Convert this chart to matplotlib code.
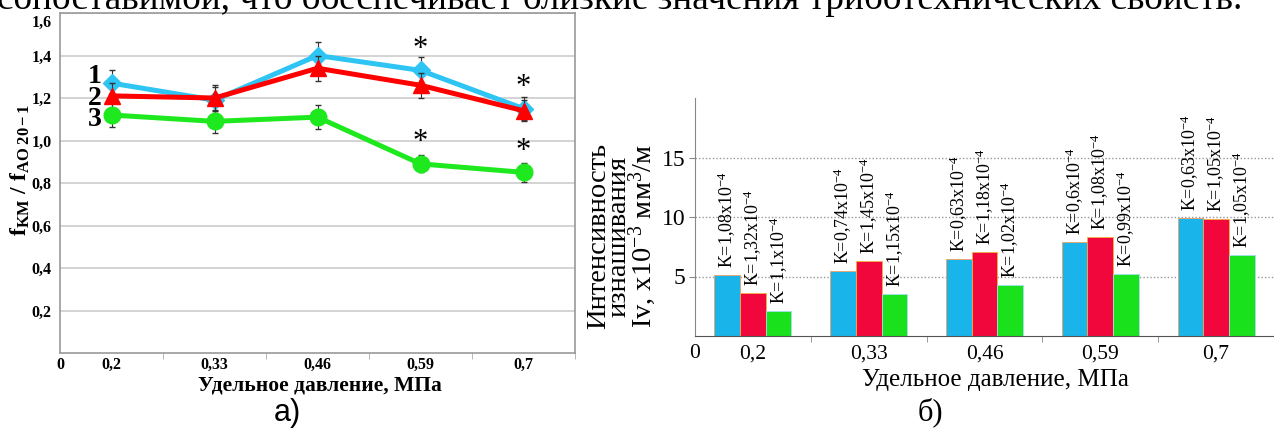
import matplotlib
matplotlib.use('Agg')
import matplotlib.pyplot as plt
import matplotlib.transforms as mtransforms
import numpy as np

plt.rcParams['font.family'] = ['Liberation Serif', 'DejaVu Serif']
plt.rcParams['mathtext.fontset'] = 'custom'
plt.rcParams['mathtext.rm'] = 'Liberation Serif'
plt.rcParams['mathtext.it'] = 'Liberation Serif:italic'
plt.rcParams['mathtext.bf'] = 'Liberation Serif:bold'

# ---- data ----
pressure = ['0,2', '0,33', '0,46', '0,59', '0,7']

# (а) friction coefficient ratio
ratio_1 = [1.27, 1.19, 1.40, 1.33, 1.15]
ratio_2 = [1.21, 1.20, 1.34, 1.26, 1.14]
ratio_3 = [1.12, 1.09, 1.11, 0.89, 0.85]
err_1 = [0.06, 0.06, 0.065, 0.065, 0.055]
err_2 = [0.06, 0.06, 0.06, 0.06, 0.05]
err_3 = [0.055, 0.055, 0.055, 0.04, 0.045]
star_1 = [False, False, False, True, True]
star_3 = [False, False, False, True, True]

# (б) wear intensity
wear_blue = [5.1, 5.5, 6.5, 7.9, 9.9]
wear_red = [3.6, 6.3, 7.1, 8.3, 9.8]
wear_green = [2.1, 3.5, 4.3, 5.2, 6.8]
k_blue = ['1,08', '0,74', '0,63', '0,6', '0,63']
k_red = ['1,32', '1,45', '1,18', '1,08', '1,05']
k_green = ['1,1', '1,15', '1,02', '0,99', '1,05']

W, H = 1274, 430
fig = plt.figure(figsize=(W / 100, H / 100), dpi=100)

# cut-off line of body text at the top
fig.text(620 / W, 1 - 9 / H, 'сопоставимой, что обеспечивает близкие значения триботехнических свойств.',
         ha='center', va='baseline', fontsize=26.8)

# ---------------- (а) ----------------
ax1 = fig.add_axes([60 / W, 1 - 353 / H, 515 / W, 340 / H])
x = np.arange(len(pressure)) + 0.5

ax1.errorbar(x, ratio_1, yerr=err_1, color='#2ec4f4', lw=3.6, marker='D', ms=9,
             ecolor='#333333', elinewidth=0.8, capsize=2.5, zorder=3)
ax1.errorbar(x, ratio_2, yerr=err_2, color='#ff0000', lw=3.6, marker='^', ms=12,
             ecolor='#333333', elinewidth=0.8, capsize=2.5, zorder=4)
ax1.errorbar(x, ratio_3, yerr=err_3, color='#1ee81e', lw=3.6, marker='o', ms=12,
             ecolor='#333333', elinewidth=0.8, capsize=2.5, zorder=4)

for xi, v, s in zip(x, ratio_1, star_1):
    if s:
        ax1.text(xi, v + 0.10, '*', ha='center', va='center', fontsize=22)
for xi, v, s in zip(x, ratio_3, star_3):
    if s:
        ax1.text(xi, v + 0.10, '*', ha='center', va='center', fontsize=22)

# curve numbers
ax1.text(0.34, 1.20, '1\n2\n3', ha='center', va='center', fontsize=20,
         fontweight='bold', linespacing=0.82)

ax1.set_xlim(0, 5)
ax1.set_ylim(0, 1.6)
ax1.set_yticks([0.2, 0.4, 0.6, 0.8, 1.0, 1.2, 1.4, 1.6])
ax1.set_yticklabels(['0,2', '0,4', '0,6', '0,8', '1,0', '1,2', '1,4', '1,6'],
                    fontsize=11.5, fontweight='bold')
ax1.set_xticks(np.concatenate([[0], x]))
ax1.set_xticklabels(['0'] + pressure, fontsize=11.5, fontweight='bold')
ax1.set_xticks(np.arange(1, 6), minor=True)
ax1.tick_params(axis='y', which='major', length=0, pad=6)
ax1.tick_params(axis='x', which='major', length=0, pad=3)
ax1.tick_params(axis='x', which='minor', length=4, color='#aaaaaa')
ax1.grid(axis='y', color='#cccccc', lw=1.2)
ax1.set_axisbelow(True)
for sp in ax1.spines.values():
    sp.set_color('#999999')
    sp.set_linewidth(1.2)
# the top label sits a little lower in the original
top_lbl = ax1.get_yticklabels()[-1]
top_lbl.set_transform(top_lbl.get_transform() +
                      mtransforms.ScaledTranslation(0, -8 / 100, fig.dpi_scale_trans))

fig.text(320 / W, 1 - 386 / H, 'Удельное давление, МПа', ha='center', va='center',
         fontsize=15.5, fontweight='bold')
fig.text(20 / W, 1 - 170 / H, r'$\mathbf{f_{KM}\ /\ f_{AO\ 20-1}}$', rotation=90,
         ha='center', va='center', fontsize=17)
fig.text(287 / W, 1 - 413 / H, 'а)', ha='center', va='center', fontsize=22,
         family='Liberation Sans')

# ---------------- (б) ----------------
ax2 = fig.add_axes([695 / W, 1 - 336 / H, 579 / W, 238 / H])
bw = 0.222
b1 = ax2.bar(x - bw, wear_blue, bw, color='#19b5ea', edgecolor='#f2a060', lw=0.6)
b2 = ax2.bar(x, wear_red, bw, color='#f1073b', edgecolor='#f5b040', lw=0.6)
b3 = ax2.bar(x + bw, wear_green, bw, color='#19e21c', edgecolor='#a0e0f0', lw=0.6)

for bars, ks in [(b1, k_blue), (b2, k_red), (b3, k_green)]:
    for r, k in zip(bars, ks):
        ax2.annotate('K=' + k + r'x10$^{-4}$', (r.get_x() + r.get_width() / 2, r.get_height()),
                     xytext=(0, 5), textcoords='offset points', rotation=90,
                     ha='center', va='bottom', fontsize=13)

ax2.set_xlim(0, 579 / 117)
ax2.set_ylim(0, 20)
ax2.set_yticks([5, 10, 15])
ax2.set_yticklabels(['5', '10', '15'], fontsize=17)
ax2.set_xticks(np.concatenate([[0], x]))
ax2.set_xticklabels(['0'] + pressure, fontsize=15.5)
ax2.set_xticks(np.arange(1, 6), minor=True)
ax2.tick_params(axis='x', which='major', length=0, pad=6)
ax2.tick_params(axis='x', which='minor', length=4, color='#888888')
ax2.tick_params(axis='y', length=4, color='#888888', pad=3)
ax2.grid(axis='y', color='#999999', lw=1.0, ls=(0, (1, 1.5)))
ax2.set_axisbelow(True)
ax2.spines['top'].set_visible(False)
ax2.spines['right'].set_visible(False)
ax2.spines['left'].set_color('#888888')
ax2.spines['bottom'].set_color('#555555')

fig.text(622 / W, 1 - 236 / H, 'Интенсивность\nизнашивания\nIv, x10$^{-3}$ мм$^{3}$/м',
         rotation=90, ha='center', va='center', fontsize=20.5, linespacing=0.76,
         multialignment='center')
fig.text(995 / W, 1 - 380 / H, 'Удельное давление, МПа', ha='center', va='center', fontsize=18)
fig.text(930 / W, 1 - 412 / H, 'б)', ha='center', va='center', fontsize=22)

fig.savefig('out.png', dpi=100)
